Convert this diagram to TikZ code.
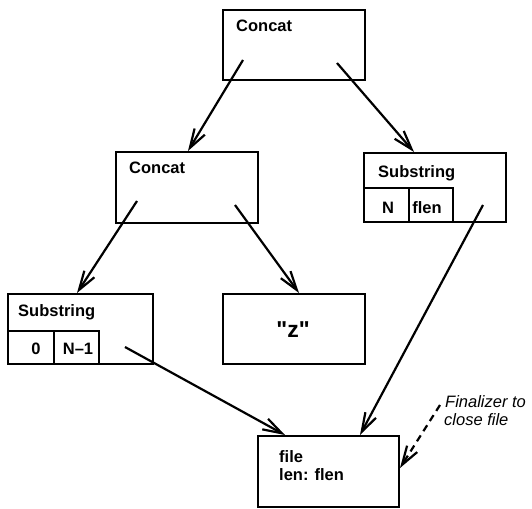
\documentclass[tikz,border=0pt]{standalone}
\usepackage{fontspec}
\setmainfont{Liberation Sans}
\usetikzlibrary{arrows.meta}
\newcommand{\dquote}{\XeTeXglyph\XeTeXcharglyph"0022\relax}

\begin{document}
\begin{tikzpicture}[x=1pt,y=-1pt,
  box/.style={draw,line width=2pt,inner sep=0pt,anchor=north west},
  lbl/.style={anchor=base west,inner sep=0pt,font=\fontsize{16.5}{20}\selectfont\bfseries},
  ptr/.style={line width=2.2pt,-{Straight Barb[length=19pt,width=12pt]}}]
\useasboundingbox (0,0) rectangle (532,508);
% boxes
\node[box,minimum width=142,minimum height=70] (topcat) at (222,9) {};
\node[box,minimum width=142,minimum height=71] (midcat) at (115,151) {};
\node[box,minimum width=142,minimum height=69] (rsub) at (363,152) {};
\node[box,minimum width=45,minimum height=34] (rcellN) at (363,187) {};
\node[box,minimum width=44,minimum height=34] (rcellF) at (408,187) {};
\node[box,minimum width=145,minimum height=70] (lsub) at (7,293) {};
\node[box,minimum width=46,minimum height=33] (lcell0) at (7,330) {};
\node[box,minimum width=45,minimum height=33] (lcellN) at (53,330) {};
\node[box,minimum width=142,minimum height=70] (zbox) at (222,293) {};
\node[box,minimum width=141,minimum height=71] (file) at (257,435) {};
% texts
\node[lbl] (topcatlbl) at (236,32) {Concat};
\node[lbl] (midcatlbl) at (129,173) {Concat};
\node[lbl] (rsublbl) at (378,177) {Substring};
\node[lbl,anchor=base] (rN) at (388,213) {N};
\node[lbl,anchor=base] (rflen) at (427,213) {flen};
\node[lbl] (lsublbl) at (18,316) {Substring};
\node[lbl,anchor=base] (l0) at (36,354) {0};
\node[lbl,anchor=base] (lN1) at (78,354) {N--1};
\node[lbl,anchor=base,font=\fontsize{23}{26}\selectfont\bfseries] (zlbl) at (293,337) {\dquote z\dquote};
\node[lbl] (filelbl) at (279,462) {file};
\node[lbl] (lenlbl) at (279,480) {len: flen};
\node[lbl,font=\fontsize{16.5}{20}\selectfont\itshape] (fin1) at (445,407) {Finalizer to};
\node[lbl,font=\fontsize{16.5}{20}\selectfont\itshape] (fin2) at (444,425) {close file};
% arrows
\coordinate (topL) at (243,60);
\coordinate (topR) at (337,63);
\coordinate (midL) at (137,201);
\coordinate (midR) at (235,205);
\coordinate (rsubP) at (483,205);
\coordinate (lsubP) at (125,347);
\coordinate (finP) at (440,405);
\draw[ptr] (topL) -- ([xshift=73]midcat.north west);
\draw[ptr] (topR) -- ([xshift=51]rsub.north west);
\draw[ptr] (midL) -- ([xshift=70]lsub.north west);
\draw[ptr] (midR) -- ([xshift=77]zbox.north west);
\draw[ptr] (rsubP) -- ([xshift=103]file.north west);
\draw[ptr] (lsubP) -- ([xshift=28]file.north west);
\draw[ptr,dash pattern=on 7pt off 5pt] (finP) -- ([yshift=-33]file.north east);
\end{tikzpicture}
\end{document}
